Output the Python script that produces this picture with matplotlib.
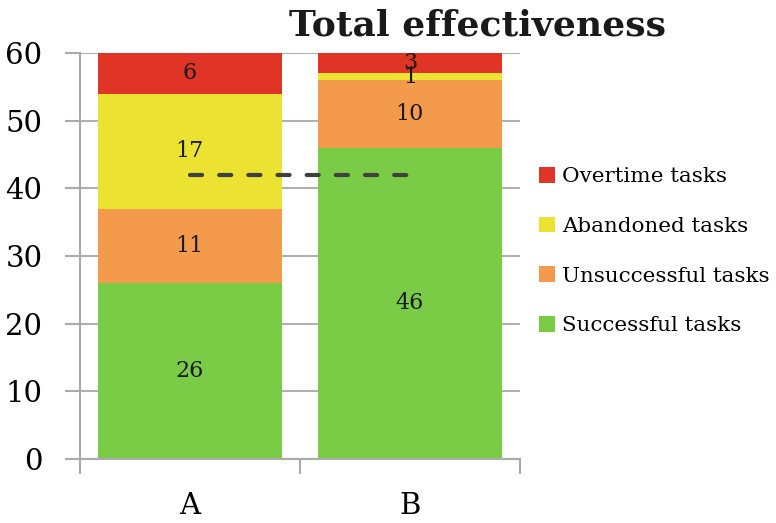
import matplotlib
matplotlib.use("Agg")
import matplotlib.pyplot as plt
import numpy as np

plt.rcParams['font.family'] = ['DejaVu Serif']

groups = ['A', 'B']
series = ['Successful tasks', 'Unsuccessful tasks', 'Abandoned tasks', 'Overtime tasks']
successful = [26, 46]
unsuccessful = [11, 10]
abandoned = [17, 1]
overtime = [6, 3]
target = 42
colors = ['#7ACB45', '#F39A4C', '#ECE232', '#E03427']

fig = plt.figure(figsize=(7.76, 5.23), dpi=100)
ax = fig.add_axes([0.103, 0.1224, 0.567, 0.7763])

x = np.arange(len(groups))
bottom = np.zeros(len(groups))
handles = []
for name, vals, c in zip(series, [successful, unsuccessful, abandoned, overtime], colors):
  bars = ax.bar(x, vals, 0.836, bottom=bottom, color=c, label=name, zorder=2)
  handles.append(bars)
  for xi, b, v in zip(x, bottom, vals):
    ax.text(xi, b + v / 2, str(v), ha='center', va='center', fontsize=16, color='#1a1a1a', zorder=3)
  bottom += np.array(vals)

# target line
ax.plot([x[0], x[1]], [target, target], color='#404040', lw=3, ls=(0, (2.9, 4.1)),
        dash_capstyle='round', zorder=4)

ax.set_xlim(-0.5, 1.5)
ax.set_ylim(0, 60)
ax.set_yticks(np.arange(0, 61, 10))
ax.set_xticks(x)
ax.set_xticklabels(groups)
ax.set_xticks([-0.5, 0.5, 1.5], minor=True)
ax.tick_params(axis='x', which='major', length=0, pad=24, labelsize=21)
ax.tick_params(axis='x', which='minor', length=11, color='#aaaaaa', width=1.5)
ax.tick_params(axis='y', length=11, color='#aaaaaa', width=1.5, pad=16, labelsize=21)
ax.grid(axis='y', color='#b0b0b0', lw=1.5, zorder=0)
for s in ['top', 'right']:
  ax.spines[s].set_visible(False)
for s in ['left', 'bottom']:
  ax.spines[s].set_color('#aaaaaa')
  ax.spines[s].set_linewidth(1.5)

ax.legend(handles[::-1], series[::-1], loc='center left', bbox_to_anchor=(1.0, 0.512),
          frameon=False, fontsize=15.4, handlelength=0.75, handleheight=0.75,
          handletextpad=0.3, labelspacing=1.42, borderaxespad=0.5)

fig.text(0.615, 0.952, 'Total effectiveness', ha='center', va='center',
         fontsize=26, fontweight='bold', color='#1a1a1a')

fig.savefig('out.png', dpi=100)
